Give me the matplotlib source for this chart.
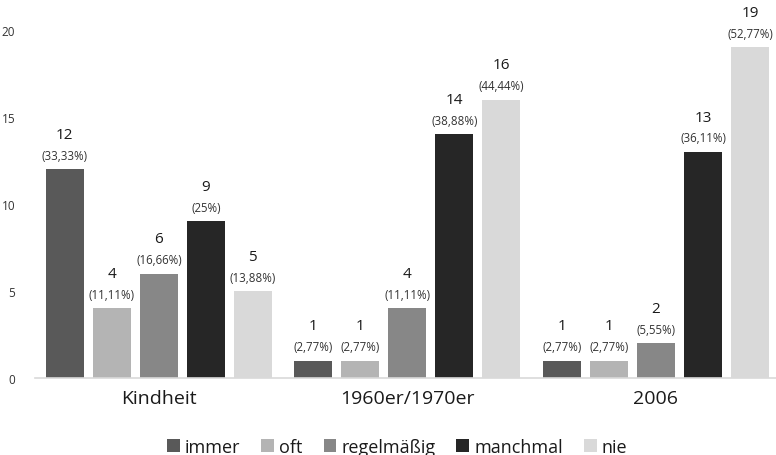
import matplotlib.pyplot as plt
import numpy as np
from matplotlib.patches import Patch

plt.rcParams['font.family'] = ['Open Sans', 'DejaVu Sans']

groups = ['Kindheit', '1960er/1970er', '2006']
series = ['immer', 'oft', 'regelmäßig', 'manchmal', 'nie']
colors = ['#595959', '#b4b4b4', '#878787', '#262626', '#d9d9d9']

counts = [
    [12, 1, 1],    # immer
    [4, 1, 1],     # oft
    [6, 4, 2],     # regelmäßig
    [9, 14, 13],   # manchmal
    [5, 16, 19],   # nie
]
percents = [
    ['33,33%', '2,77%', '2,77%'],
    ['11,11%', '2,77%', '2,77%'],
    ['16,66%', '11,11%', '5,55%'],
    ['25%', '38,88%', '36,11%'],
    ['13,88%', '44,44%', '52,77%'],
]

fig = plt.figure(figsize=(7.76, 4.56), dpi=100)
ax = fig.add_axes([0.0445, 0.169, 0.961, 0.763])

x = np.arange(len(groups))
width = 0.153
step = 0.189

for i, (name, col) in enumerate(zip(series, colors)):
    pos = x + (i - 2) * step
    ax.bar(pos, counts[i], width, color=col, label=name, zorder=2)
    for xp, v, p in zip(pos, counts[i], percents[i]):
        ax.annotate(f'({p})', (xp, v), xytext=(0, 10), textcoords='offset points',
                    ha='center', va='center', fontsize=8.3, color='#333333',
                    annotation_clip=False)
        ax.annotate(str(v), (xp, v), xytext=(0, 25), textcoords='offset points',
                    ha='center', va='center', fontsize=11, color='#1a1a1a',
                    annotation_clip=False)

ax.set_xlim(-0.5, 2.5)
ax.set_ylim(0, 20)
ax.set_yticks([0, 5, 10, 15, 20])
ax.set_xticks(x)
ax.set_xticklabels(groups, fontsize=14, color='#1a1a1a')
ax.tick_params(axis='both', length=0)
ax.tick_params(axis='y', labelsize=8.5, labelcolor='#333333', pad=14)
ax.tick_params(axis='x', pad=8)
for s in ['top', 'right', 'left']:
    ax.spines[s].set_visible(False)
ax.spines['bottom'].set_color('#d9d9d9')
ax.spines['bottom'].set_linewidth(1.2)

handles = [Patch(facecolor=c, label=n) for n, c in zip(series, colors)]
fig.legend(handles=handles, loc='center', bbox_to_anchor=(0.512, 0.018),
           ncol=5, frameon=False, fontsize=13, handlelength=0.7,
           handleheight=0.7, handletextpad=0.3, columnspacing=1.15,
           labelcolor='#1a1a1a')

fig.savefig('out.png', dpi=100)
